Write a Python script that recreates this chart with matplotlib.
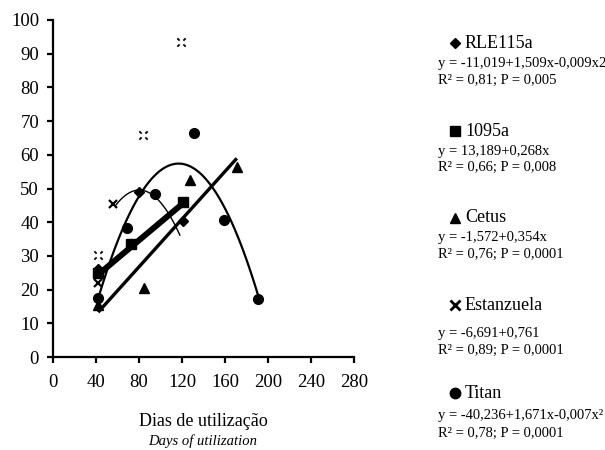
import numpy as np
import matplotlib
matplotlib.use("Agg")
import matplotlib.pyplot as plt
from matplotlib.path import Path

plt.rcParams['font.family'] = ['Liberation Serif', 'DejaVu Serif']

# cultivars, fitted equations and fit statistics
cultivars = ['RLE115a', '1095a', 'Cetus', 'Estanzuela', 'Titan']
equations = ['y = -11,019+1,509x-0,009x2',
             'y = 13,189+0,268x',
             'y = -1,572+0,354x',
             'y = -6,691+0,761',
             'y = -40,236+1,671x-0,007x²']
stats = ['R² = 0,81; P = 0,005',
         'R² = 0,66; P = 0,008',
         'R² = 0,76; P = 0,0001',
         'R² = 0,89; P = 0,0001',
         'R² = 0,78; P = 0,0001']

# observed values (days, value)
rle_days = [42, 80, 121]
rle_vals = [26.0, 48.9, 40.4]
c1095_days = [42, 73, 121]
c1095_vals = [24.8, 33.6, 45.9]
cetus_days = [42, 85, 127, 171]
cetus_vals = [15.5, 20.5, 52.5, 56.5]
estan_days = [42, 56]
estan_vals = [22.0, 45.4]
estan_days_faint = [42, 84, 119]
estan_vals_faint = [30.3, 65.9, 93.4]
titan_days = [42, 69, 95, 131, 159, 191]
titan_vals = [17.5, 38.3, 48.3, 66.6, 40.8, 17.2]

# trend coefficients (c0, c1, c2)
rle_coef = [-11.019, 1.509, -0.0094]
c1095_coef = [13.189, 0.268, 0.0]
cetus_coef = [-1.572, 0.354, 0.0]
titan_coef = [-40.236, 1.671, -0.00715]


def trend(coef, x0, x1):
    x = np.linspace(x0, x1, 200)
    return x, coef[0] + coef[1] * x + coef[2] * x ** 2


W, H = 605, 450
fig = plt.figure(figsize=(W / 100, H / 100), dpi=100)
ax = fig.add_axes([53 / W, 93 / H, 301 / W, 337 / H])

# trend lines
x, y = trend(titan_coef, 42, 192)
ax.plot(x, y, color='black', lw=1.6)
x, y = trend(rle_coef, 58, 118)
ax.plot(x, y, color='black', lw=1.0)
x, y = trend(cetus_coef, 42, 171)
ax.plot(x, y, color='black', lw=2.4, solid_capstyle='butt')
x, y = trend(c1095_coef, 42, 121)
ax.plot(x, y, color='black', lw=4.3, solid_capstyle='butt')

# broken x marker for the faded points
broken_x = Path([(-1, 1), (-0.45, 0.45), (1, 1), (0.45, 0.45),
                 (-1, -1), (-0.45, -0.45), (1, -1), (0.45, -0.45)],
                [Path.MOVETO, Path.LINETO] * 4)

ax.plot(estan_days_faint, estan_vals_faint, ls='none', marker=broken_x,
        ms=6, mew=1.3, color='black')
ax.plot(estan_days, estan_vals, ls='none', marker='x', ms=6, mew=1.6, color='black')
ax.plot(cetus_days, cetus_vals, ls='none', marker='^', ms=7.5, color='black')
ax.plot(rle_days, rle_vals, ls='none', marker='D', ms=5.5, color='black')
ax.plot(c1095_days, c1095_vals, ls='none', marker='s', ms=6.5, color='black')
ax.plot(titan_days, titan_vals, ls='none', marker='o', ms=7, color='black')

ax.set_xlim(0, 280)
ax.set_ylim(0, 100)
ax.set_xticks(np.arange(0, 281, 40))
ax.set_yticks(np.arange(0, 101, 10))
for s in ['top', 'right']:
    ax.spines[s].set_visible(False)
for s in ['left', 'bottom']:
    ax.spines[s].set_linewidth(1.6)
ax.tick_params(axis='both', direction='out', length=4.5, width=1.6, labelsize=13.5)
ax.tick_params(axis='x', pad=7.5)
ax.tick_params(axis='y', pad=5.5)

fig.text(203 / W, 1 - 422 / H, 'Dias de utilização', ha='center', va='center', fontsize=13)
fig.text(203 / W, 1 - 441 / H, 'Days of utilization', ha='center', va='center',
         fontsize=10.5, style='italic')

# legend block on the right
title_y = [43, 131, 218, 305, 393]
eq_y = [63, 152, 238, 333, 415]
stat_y = [80, 167, 254, 350, 433]
markers = ['D', 's', '^', 'x', 'o']
msizes = [5.5, 7, 7, 6.5, 7.5]
for i, name in enumerate(cultivars):
    ax.plot([455 / W], [1 - title_y[i] / H], transform=fig.transFigure, clip_on=False,
            marker=markers[i], ms=msizes[i], mew=2 if markers[i] == 'x' else 1,
            color='black', ls='none')
    fig.text(465 / W, 1 - title_y[i] / H, name, ha='left', va='center', fontsize=13)
    fig.text(437.5 / W, 1 - eq_y[i] / H, equations[i], ha='left', va='center', fontsize=10.5)
    fig.text(437.5 / W, 1 - stat_y[i] / H, stats[i], ha='left', va='center', fontsize=10.5)

fig.savefig('out.png', dpi=100)
